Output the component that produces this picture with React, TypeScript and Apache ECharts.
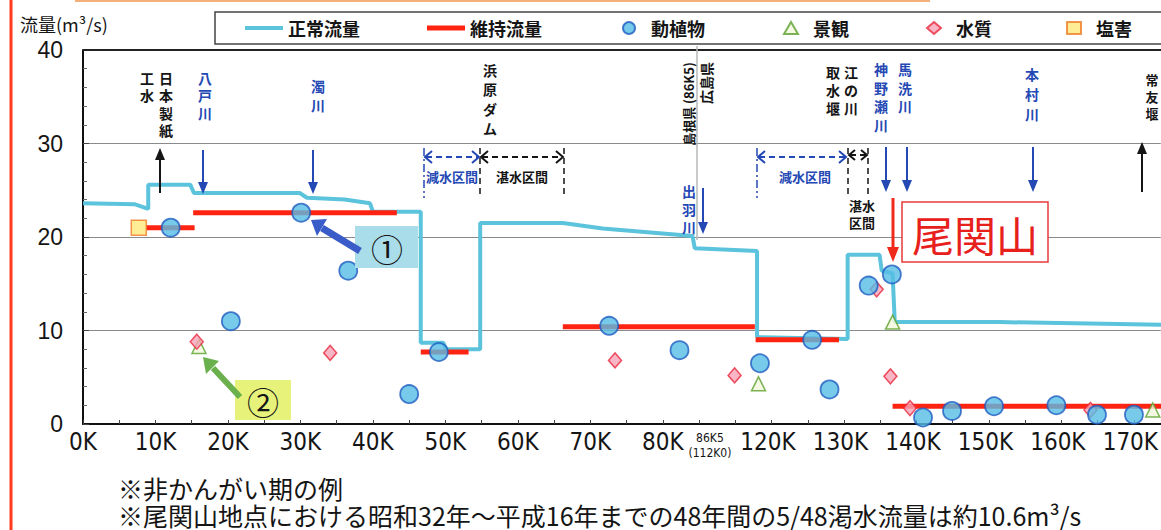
import React, { useEffect, useRef } from 'react';
import * as echarts from 'echarts';

// ---- distance axis (K = km point); the axis jumps from 86K5 to 112K0 ----
const GAP_FROM = 86.5;
const GAP_TO = 112.0;
const toPos = (km: number) => (km <= GAP_FROM ? km : km - (GAP_TO - GAP_FROM));

const xLabelKm = [0, 10, 20, 30, 40, 50, 60, 70, 80, 86.5, 120, 130, 140, 150, 160, 170];
const xLabelText = ['0K', '10K', '20K', '30K', '40K', '50K', '60K', '70K', '80K', '86K5\n(112K0)', '120K', '130K', '140K', '150K', '160K', '170K'];
const yTicks = [0, 10, 20, 30, 40];

// 正常流量 (step line, m3/s)
const normalKm = [0, 7.2, 9.0, 9.0, 14.8, 15.3, 29.9, 30.9, 36.1, 39.6, 40.0, 46.6, 46.6, 49.7, 50.1, 54.8, 54.8, 66.2, 71.7, 84.1, 84.4, 118.5, 118.5, 131.0, 131.0, 135.4, 135.7, 137.2, 137.5, 152.0, 176.0];
const normalFlow = [23.6, 23.5, 23.0, 25.6, 25.6, 24.7, 24.7, 24.2, 24.0, 23.6, 22.7, 22.7, 8.7, 8.7, 8.0, 8.0, 21.5, 21.5, 20.9, 20.1, 18.8, 18.5, 9.3, 9.1, 18.1, 18.1, 16.4, 16.1, 10.9, 10.9, 10.6];

// 維持流量 (segments)
const maintStartKm = [8.7, 15.2, 46.6, 66.2, 118.3, 137.2];
const maintEndKm = [15.4, 43.3, 53.2, 118.2, 129.8, 176.0];
const maintFlow = [21.0, 22.6, 7.7, 10.4, 9.0, 1.9];

// 動植物
const plantKm = [12.1, 30.1, 20.4, 36.6, 45.0, 49.1, 72.6, 82.3, 118.9, 126.1, 128.5, 133.9, 137.1, 141.4, 145.4, 151.2, 159.8, 165.4, 170.5];
const plantFlow = [21.0, 22.6, 11.0, 16.4, 3.2, 7.7, 10.5, 7.9, 6.5, 9.0, 3.7, 14.8, 16.0, 0.7, 1.4, 1.9, 2.0, 1.0, 1.0];

// 景観
const sceneryKm = [16.0, 118.7, 137.2, 173.1];
const sceneryFlow = [8.3, 4.3, 10.9, 1.5];

// 水質
const qualityKm = [15.7, 34.1, 73.4, 115.4, 135.0, 136.9, 139.6, 164.5];
const qualityFlow = [8.8, 7.6, 6.8, 5.2, 14.4, 5.1, 1.7, 1.5];

// 塩害
const saltKm = [7.7];
const saltFlow = [21.0];

const CJK = '"Noto Sans CJK JP", "Noto Sans CJK SC", sans-serif';
const NARROW = '"Liberation Sans Narrow", "DejaVu Sans Condensed", "Liberation Sans", sans-serif';
const BLUE = '#2448b4';
const BLACK = '#151515';

const pairs = (km: number[], v: number[]) => km.map((k, i) => [toPos(k), v[i]]);

const maintData: any[] = [];
maintStartKm.forEach((s, i) => {
  maintData.push([toPos(s), maintFlow[i]]);
  maintData.push([toPos(maintEndKm[i]), maintFlow[i]]);
  maintData.push([null, null]);
});

function vtext(chars: string, x: number, top: number, color: string, lh = 17.5, fs = 14): any {
  return {
    type: 'text', x, y: top, z: 100,
    style: { text: chars.split('').join('\n'), fill: color, fontSize: fs, fontWeight: 'bold', fontFamily: CJK, align: 'center', verticalAlign: 'top', lineHeight: lh },
  };
}
function downArrow(x: number, y1: number, y2: number, color: string, w = 2): any[] {
  return [
    { type: 'line', z: 100, shape: { x1: x, y1, x2: x, y2: y2 - 10 }, style: { stroke: color, lineWidth: w } },
    { type: 'polygon', z: 100, shape: { points: [[x - 5, y2 - 12], [x + 5, y2 - 12], [x, y2]] }, style: { fill: color } },
  ];
}
function upArrow(x: number, y1: number, y2: number, color: string, w = 2): any[] {
  return [
    { type: 'line', z: 100, shape: { x1: x, y1, x2: x, y2: y2 + 10 }, style: { stroke: color, lineWidth: w } },
    { type: 'polygon', z: 100, shape: { points: [[x - 5, y2 + 12], [x + 5, y2 + 12], [x, y2]] }, style: { fill: color } },
  ];
}
function vdash(x: number, y1: number, y2: number, color: string, dash: number[]): any {
  return { type: 'line', z: 100, shape: { x1: x, y1, x2: x, y2 }, style: { stroke: color, lineWidth: 1.5, lineDash: dash } };
}
function rangeArrow(x1: number, x2: number, y: number, color: string, h = 6): any[] {
  return [
    { type: 'line', z: 100, shape: { x1: x1 + 2, y1: y, x2: x2 - 2, y2: y }, style: { stroke: color, lineWidth: 2, lineDash: [6, 4] } },
    { type: 'polyline', z: 100, shape: { points: [[x1 + h + 2, y - h], [x1 + 1, y], [x1 + h + 2, y + h]] }, style: { stroke: color, lineWidth: 2, fill: 'none' } },
    { type: 'polyline', z: 100, shape: { points: [[x2 - h - 2, y - h], [x2 - 1, y], [x2 - h - 2, y + h]] }, style: { stroke: color, lineWidth: 2, fill: 'none' } },
  ];
}
function htext(text: string, x: number, y: number, color: string, fs = 13, extra: any = {}): any {
  return { type: 'text', x, y, z: 100, style: { text, fill: color, fontSize: fs, fontWeight: 'bold', fontFamily: CJK, align: 'center', verticalAlign: 'middle', ...extra } };
}

const graphics: any[] = [
  // page frame bits
  { type: 'line', z: 100, shape: { x1: 11, y1: 0, x2: 11, y2: 530 }, style: { stroke: '#ff3a1e', lineWidth: 3 } },
  { type: 'line', z: 100, shape: { x1: 75, y1: 1, x2: 930, y2: 1 }, style: { stroke: '#f3b07a', lineWidth: 2 } },
  // plot top border
  { type: 'line', z: 2, shape: { x1: 83, y1: 50, x2: 1161, y2: 50 }, style: { stroke: '#222', lineWidth: 2 } },
  // legend box
  { type: 'rect', z: 1, shape: { x: 215, y: 12, width: 980, height: 32 }, style: { fill: 'none', stroke: '#444', lineWidth: 1.5 } },
  // y axis title
  { type: 'text', x: 20, y: 24, z: 100, style: { text: '流量(m³/s)', fill: BLACK, fontSize: 18, fontFamily: CJK, verticalAlign: 'middle' } },
  // prefecture border
  { type: 'line', z: 50, shape: { x1: 697, y1: 46, x2: 697, y2: 240 }, style: { stroke: '#b8b8b8', lineWidth: 1.5 } },
  { type: 'text', x: 688, y: 104, rotation: Math.PI / 2, z: 100, style: { text: '島根県 (86K5)', fill: BLACK, fontSize: 13, fontWeight: 'bold', fontFamily: CJK, align: 'center', verticalAlign: 'middle' } },
  { type: 'text', x: 706, y: 83, rotation: Math.PI / 2, z: 100, style: { text: '広島県', fill: BLACK, fontSize: 14, fontWeight: 'bold', fontFamily: CJK, align: 'center', verticalAlign: 'middle' } },
  // vertical labels
  vtext('工水', 147, 69, BLACK),
  vtext('日本製紙', 166, 69, BLACK),
  vtext('八戸川', 205, 69, BLUE),
  vtext('濁川', 318, 77, BLUE, 18.5),
  vtext('浜原ダム', 490, 60, BLACK, 19.5),
  vtext('取水堰', 833, 63, BLACK, 18),
  vtext('江の川', 851, 63, BLACK, 18),
  vtext('神野瀬川', 881, 60, BLUE, 18.5),
  vtext('馬洗川', 905, 60, BLUE, 18.5),
  vtext('本村川', 1032, 64, BLUE, 20),
  vtext('常友堰', 1152, 71, BLACK, 17, 13),
  vtext('出羽川', 689, 182, BLUE, 18),
  // arrows
  ...upArrow(160, 193, 148, BLACK),
  ...upArrow(1142, 192, 142, BLACK),
  ...downArrow(203, 150, 194, BLUE),
  ...downArrow(313, 150, 194, BLUE),
  ...downArrow(886, 147, 192, BLUE),
  ...downArrow(907, 147, 192, BLUE),
  ...downArrow(1033, 147, 192, BLUE),
  ...downArrow(703, 188, 234, BLUE),
  // sections
  vdash(424, 148, 198, BLUE, [8, 3, 2, 3]),
  vdash(480, 148, 198, BLACK, [6, 4]),
  vdash(564, 148, 198, BLACK, [6, 4]),
  vdash(757, 148, 198, BLUE, [8, 3, 2, 3]),
  vdash(848, 148, 198, BLACK, [6, 4]),
  vdash(868, 148, 198, BLACK, [6, 4]),
  ...rangeArrow(424, 480, 157, BLUE),
  ...rangeArrow(480, 564, 157, BLACK),
  ...rangeArrow(757, 847, 157, BLUE),
  ...rangeArrow(848, 868, 155, BLACK, 5),
  htext('減水区間', 452, 176, BLUE),
  htext('湛水区間', 522, 176, BLACK),
  htext('減水区間', 805, 176, BLUE),
  { type: 'text', x: 862, y: 197, z: 100, style: { text: '湛水\n区間', fill: BLACK, fontSize: 13, fontWeight: 'bold', fontFamily: CJK, align: 'center', verticalAlign: 'top', lineHeight: 17 } },
  // annotation 1
  { type: 'rect', z: 90, shape: { x: 355, y: 226, width: 63, height: 42 }, style: { fill: '#a9dde9' } },
  htext('①', 387, 248, BLACK, 32, { fontWeight: 'normal' }),
  { type: 'line', z: 100, shape: { x1: 360, y1: 251, x2: 322, y2: 228 }, style: { stroke: '#3a5cc8', lineWidth: 7 } },
  { type: 'polygon', z: 100, shape: { points: [[311, 220], [327, 219], [317, 236]] }, style: { fill: '#3a5cc8' } },
  // annotation 2
  { type: 'rect', z: 90, shape: { x: 235, y: 380, width: 56, height: 40 }, style: { fill: '#e6f27a' } },
  htext('②', 263, 401, BLACK, 32, { fontWeight: 'normal' }),
  { type: 'line', z: 100, shape: { x1: 240, y1: 397, x2: 213, y2: 368 }, style: { stroke: '#6ab04c', lineWidth: 6 } },
  { type: 'polygon', z: 100, shape: { points: [[203, 357], [219, 361], [206, 374]] }, style: { fill: '#6ab04c' } },
  // 尾関山
  { type: 'rect', z: 90, shape: { x: 902, y: 202, width: 146, height: 60 }, style: { fill: '#fff', stroke: '#e83a3a', lineWidth: 1.5 } },
  htext('尾関山', 975, 233, '#e8201c', 42, { fontWeight: 'normal' }),
  { type: 'line', z: 100, shape: { x1: 893, y1: 198, x2: 893, y2: 250 }, style: { stroke: '#f02a1a', lineWidth: 3 } },
  { type: 'polygon', z: 100, shape: { points: [[887, 247], [899, 247], [893, 262]] }, style: { fill: '#f02a1a' } },
  // notes
  { type: 'text', x: 118, y: 474, z: 100, style: { text: '※非かんがい期の例\n※尾関山地点における昭和32年～平成16年までの48年間の5/48渇水流量は約10.6m³/s', fill: BLACK, fontSize: 25, lineHeight: 27, fontFamily: CJK, verticalAlign: 'top' } },
];

const legendCommon = {
  top: 19, padding: 0, itemGap: 0, selectedMode: false,
  textStyle: { fontSize: 18, fontWeight: 'bold', color: BLACK, fontFamily: CJK },
};
const symLegend = (name: string, left: number) => ({
  ...legendCommon, data: [name], left, itemWidth: 14, itemHeight: 12,
  textStyle: { ...legendCommon.textStyle, padding: [0, 0, 0, 10] },
});

const xTickPos: number[] = [];
for (let p = 0; p <= 145; p += 5) xTickPos.push(p);

const option: any = {
  animation: false,
  backgroundColor: '#fff',
  grid: { left: 83, top: 50, right: 0, height: 374, show: false },
  legend: [
    { ...legendCommon, data: [{ name: '正常流量', icon: 'rect' }], left: 245, itemWidth: 38, itemHeight: 4 },
    { ...legendCommon, data: [{ name: '維持流量', icon: 'rect' }], left: 427, itemWidth: 38, itemHeight: 5 },
    symLegend('動植物', 622),
    symLegend('景観', 783),
    symLegend('水質', 926),
    symLegend('塩害', 1066),
  ],
  xAxis: {
    type: 'value', min: 0, max: 148.7,
    axisLine: { lineStyle: { color: '#111', width: 2 } },
    axisTick: { inside: true, length: 4, customValues: xTickPos, lineStyle: { color: '#444' } },
    splitLine: { show: false },
    axisLabel: {
      customValues: xLabelKm.map(toPos),
      margin: 6,
      color: BLACK, fontSize: 24, fontFamily: NARROW,
      formatter: (v: number) => {
        const i = xLabelKm.findIndex((k) => Math.abs(toPos(k) - v) < 1e-6);
        if (i < 0) return '';
        const t = xLabelText[i];
        if (t.includes('\n')) {
          const [a, b] = t.split('\n');
          return `{s|${a}}\n{s|${b}}`;
        }
        return t;
      },
      rich: { s: { fontSize: 12, lineHeight: 15, fontFamily: NARROW, color: BLACK } },
    },
  },
  yAxis: {
    type: 'value', min: 0, max: 40, interval: 10,
    axisLine: { show: true, lineStyle: { color: '#111', width: 2 } },
    axisTick: { show: true, inside: true, length: 6, lineStyle: { color: '#444' } },
    minorTick: { show: true, splitNumber: 5, length: 4, lineStyle: { color: '#666' } },
    splitLine: { show: true, lineStyle: { color: '#8a8a8a', width: 1 } },
    axisLabel: { margin: 20, color: BLACK, fontSize: 23, fontFamily: '"Liberation Sans", sans-serif', customValues: yTicks },
  },
  graphic: { elements: graphics },
  series: [
    {
      name: '正常流量', type: 'line', data: pairs(normalKm, normalFlow), symbol: 'none', z: 3,
      lineStyle: { color: '#5cc3dc', width: 4 }, itemStyle: { color: '#5cc3dc' },
    },
    {
      name: '維持流量', type: 'line', data: maintData, symbol: 'none', connectNulls: false, z: 4,
      lineStyle: { color: '#ff2412', width: 5 }, itemStyle: { color: '#ff2412' },
    },
    {
      name: '景観', type: 'scatter', data: pairs(sceneryKm, sceneryFlow), symbol: 'triangle', symbolSize: 14, z: 5,
      itemStyle: { color: '#f3f8dc', borderColor: '#5aa02c', borderWidth: 1.5 },
    },
    {
      name: '水質', type: 'scatter', data: pairs(qualityKm, qualityFlow), symbol: 'diamond', symbolSize: [13, 15], z: 6,
      itemStyle: { color: '#f6a2b6', borderColor: '#e8283c', borderWidth: 1.5 },
    },
    {
      name: '動植物', type: 'scatter', data: pairs(plantKm, plantFlow), symbol: 'circle', symbolSize: 18, z: 7,
      itemStyle: { color: '#56bde6', borderColor: '#1e5cc0', borderWidth: 1.8 },
    },
    {
      name: '塩害', type: 'scatter', data: pairs(saltKm, saltFlow), symbol: 'rect', symbolSize: 15, z: 8,
      itemStyle: { color: '#ffe97a', borderColor: '#f07a28', borderWidth: 1.5 },
    },
  ],
};

export default function App() {
  const ref = useRef<HTMLDivElement>(null);
  useEffect(() => {
    const chart = echarts.init(ref.current!, null, { renderer: 'svg' });
    chart.setOption(option);
    return () => chart.dispose();
  }, []);
  return <div ref={ref} style={{ position: 'fixed', left: 0, top: 0, width: 1161, height: 530, background: '#fff' }} />;
}
